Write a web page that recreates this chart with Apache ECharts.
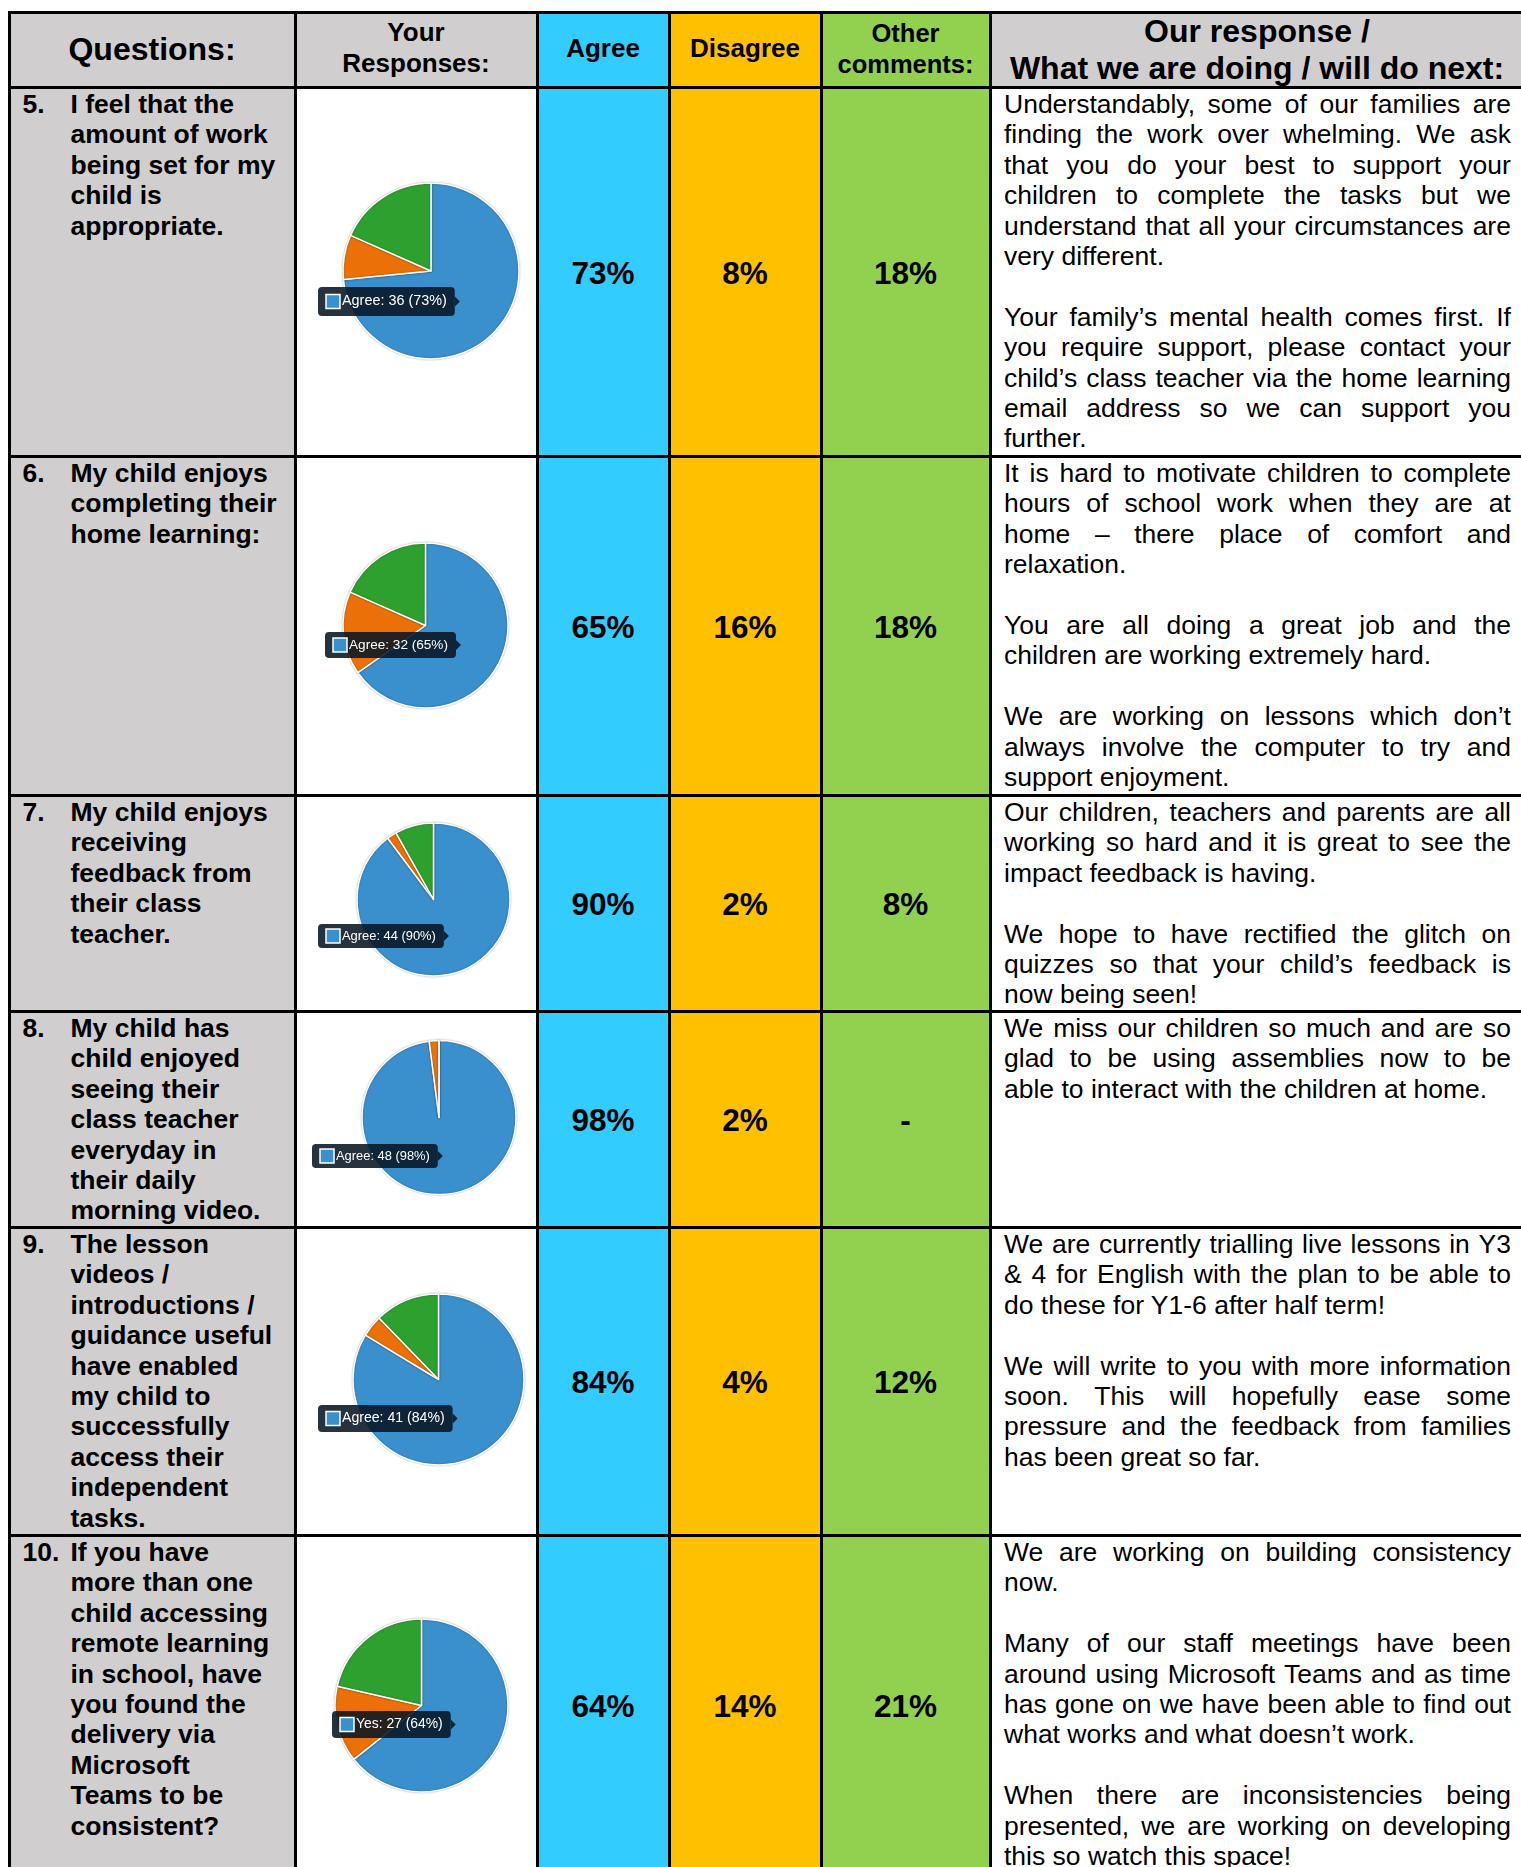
<!DOCTYPE html>
<html>
<head>
<meta charset="utf-8">
<script src="https://cdn.jsdelivr.net/npm/echarts@6/dist/echarts.min.js"></script>
<style>
html,body{margin:0;padding:0;background:#fff;}
body{width:1521px;height:1867px;position:relative;overflow:hidden;font-family:"Liberation Sans",Arial,sans-serif;color:#000;}
#table div{position:absolute;box-sizing:border-box;}
.t{white-space:nowrap;}
.b{font-weight:bold;}
.j{display:flex;justify-content:space-between;white-space:nowrap;}
#chart{position:absolute;left:0;top:0;width:1521px;height:1867px;z-index:5;pointer-events:none;}
</style>
</head>
<body>
<div id="table"></div>
<div id="chart"></div>
<script>
// ---------------- DATA ----------------
const headerTitles = [["Questions:"], ["Your", "Responses:"], ["Agree"], ["Disagree"], ["Other", "comments:"], ["Our response /", "What we are doing / will do next:"]];
const questionNumbers = ["5.", "6.", "7.", "8.", "9.", "10."];
const questionLines = [
  ["I feel that the", "amount of work", "being set for my", "child is", "appropriate."],
  ["My child enjoys", "completing their", "home learning:"],
  ["My child enjoys", "receiving", "feedback from", "their class", "teacher."],
  ["My child has", "child enjoyed", "seeing their", "class teacher", "everyday in", "their daily", "morning video."],
  ["The lesson", "videos /", "introductions /", "guidance useful", "have enabled", "my child to", "successfully", "access their", "independent", "tasks."],
  ["If you have", "more than one", "child accessing", "remote learning", "in school, have", "you found the", "delivery via", "Microsoft", "Teams to be", "consistent?"]
];
const agreePct = [73, 65, 90, 98, 84, 64];
const disagreePct = [8, 16, 2, 2, 4, 14];
const otherPct = [18, 18, 8, null, 12, 21];
const pieFirstLabels = ["Agree", "Agree", "Agree", "Agree", "Agree", "Yes"];
const agreeCounts = [36, 32, 44, 48, 41, 27];
const disagreeCounts = [4, 8, 1, 1, 2, 6];
const otherCounts = [9, 9, 4, 0, 6, 9];
const responseLines = [
  ["Understandably, some of our families are", "finding the work over whelming. We ask", "that you do your best to support your", "children to complete the tasks but we", "understand that all your circumstances are", "very different.", "", "Your family’s mental health comes first. If", "you require support, please contact your", "child’s class teacher via the home learning", "email address so we can support you", "further."],
  ["It is hard to motivate children to complete", "hours of school work when they are at", "home – there place of comfort and", "relaxation.", "", "You are all doing a great job and the", "children are working extremely hard.", "", "We are working on lessons which don’t", "always involve the computer to try and", "support enjoyment."],
  ["Our children, teachers and parents are all", "working so hard and it is great to see the", "impact feedback is having.", "", "We hope to have rectified the glitch on", "quizzes so that your child’s feedback is", "now being seen!"],
  ["We miss our children so much and are so", "glad to be using assemblies now to be", "able to interact with the children at home."],
  ["We are currently trialling live lessons in Y3", "& 4 for English with the plan to be able to", "do these for Y1-6 after half term!", "", "We will write to you with more information", "soon. This will hopefully ease some", "pressure and the feedback from families", "has been great so far."],
  ["We are working on building consistency", "now.", "", "Many of our staff meetings have been", "around using Microsoft Teams and as time", "has gone on we have been able to find out", "what works and what doesn’t work.", "", "When there are inconsistencies being", "presented, we are working on developing", "this so watch this space!"]
];

// ---------------- LAYOUT / STYLE ----------------
const colX = [9, 295, 537, 669, 821, 990, 1524];
const rowY = [12, 87, 456, 795, 1011, 1227, 1535, 1875];
const headerFills = ["#d0cece", "#d0cece", "#33ccff", "#ffc000", "#92d050", "#d0cece"];
const bodyFills = ["#d0cece", "#ffffff", "#33ccff", "#ffc000", "#92d050", "#ffffff"];
const pieColors = ["#3a8fcd", "#eb7007", "#2ea02f"];
const lineH = 30.4;
const headerSpec = [
  {size: 32, ys: [49]},
  {size: 26, ys: [33, 64]},
  {size: 26, ys: [49]},
  {size: 26, ys: [49]},
  {size: 25.5, ys: [33, 64]},
  {size: 32, ys: [31, 68]}
];
const pieLayout = [
  {cx: 431, cy: 271, r: 88},
  {cx: 425.5, cy: 625.5, r: 82.5},
  {cx: 433.5, cy: 899.5, r: 76.5},
  {cx: 439, cy: 1117.5, r: 77},
  {cx: 438.5, cy: 1379.5, r: 85.5},
  {cx: 421.5, cy: 1705.5, r: 86.5}
];
const tipLayout = [
  {x: 318, cy: 301.5, h: 29, fs: 14.4},
  {x: 325, cy: 645, h: 26, fs: 13.6},
  {x: 318, cy: 936, h: 24, fs: 12.9},
  {x: 312, cy: 1156, h: 24, fs: 12.9},
  {x: 318, cy: 1418.5, h: 27, fs: 14.1},
  {x: 332, cy: 1724.5, h: 27, fs: 13.9}
];

// ---------------- TABLE (HTML) ----------------
const root = document.getElementById('table');
function add(css, html, cls) {
  const d = document.createElement('div');
  d.style.cssText = css;
  if (cls) d.className = cls;
  if (html != null) d.textContent = html;
  root.appendChild(d);
  return d;
}
const nCols = colX.length - 1;
const nRows = rowY.length - 1;
for (let r = 0; r < nRows; r++) {
  for (let c = 0; c < nCols; c++) {
    const fill = r === 0 ? headerFills[c] : bodyFills[c];
    add(`left:${colX[c]}px;top:${rowY[r]}px;width:${colX[c+1]-colX[c]}px;height:${rowY[r+1]-rowY[r]}px;background:${fill};`);
  }
}
headerTitles.forEach((lines, c) => {
  const s = headerSpec[c];
  lines.forEach((txt, k) => {
    add(`left:${colX[c]}px;width:${colX[c+1]-colX[c]}px;top:${s.ys[k]-s.size*0.6}px;height:${s.size*1.2}px;line-height:${s.size*1.2}px;font-size:${s.size}px;text-align:center;`, txt, 't b');
  });
});
for (let i = 0; i < questionLines.length; i++) {
  const top = rowY[i+1];
  const bottom = rowY[i+2];
  const mid = (top + bottom) / 2 + 1;
  add(`left:22.5px;top:${top+2}px;height:${lineH}px;line-height:${lineH}px;font-size:26.5px;`, questionNumbers[i], 't b');
  questionLines[i].forEach((txt, k) => {
    add(`left:70.5px;top:${top+2+k*lineH}px;height:${lineH}px;line-height:${lineH}px;font-size:26.5px;`, txt, 't b');
  });
  const pcts = [agreePct[i], disagreePct[i], otherPct[i]];
  pcts.forEach((v, k) => {
    const c = k + 2;
    add(`left:${colX[c]}px;width:${colX[c+1]-colX[c]}px;top:${mid-20}px;height:40px;line-height:40px;font-size:31.5px;text-align:center;`, v == null ? '-' : v + '%', 't b');
  });
  const lines = responseLines[i];
  lines.forEach((txt, k) => {
    if (txt === '') return;
    const justify = k < lines.length - 1 && lines[k+1] !== '';
    const css = `left:1004px;width:507px;top:${top+2+k*lineH}px;height:${lineH}px;line-height:${lineH}px;font-size:26.5px;`;
    if (justify) {
      const d = add(css, null, 'j');
      txt.split(' ').forEach(w => { const s = document.createElement('span'); s.textContent = w; d.appendChild(s); });
    } else {
      add(css, txt, 't');
    }
  });
}
const bw = 3;
colX.forEach(x => add(`left:${x-bw/2}px;top:${rowY[0]-bw/2}px;width:${bw}px;height:${rowY[nRows]-rowY[0]+bw}px;background:#000;`));
rowY.forEach(y => add(`left:${colX[0]-bw/2}px;top:${y-bw/2}px;width:${colX[nCols]-colX[0]+bw}px;height:${bw}px;background:#000;`));

// ---------------- PIES (ECharts) ----------------
const chart = echarts.init(document.getElementById('chart'), null, {renderer: 'canvas', width: 1521, height: 1867});
const series = pieLayout.map((p, i) => ({
  type: 'pie',
  center: [p.cx, p.cy],
  radius: p.r,
  startAngle: 90,
  clockwise: true,
  silent: true,
  animation: false,
  z: 2,
  label: {show: false},
  labelLine: {show: false},
  itemStyle: {borderColor: '#ffffff', borderWidth: 1.5, shadowBlur: 2, shadowColor: 'rgba(0,0,0,0.3)'},
  data: [
    {name: pieFirstLabels[i], value: agreeCounts[i], itemStyle: {color: pieColors[0]}},
    {name: 'Disagree', value: disagreeCounts[i], itemStyle: {color: pieColors[1]}},
    {name: 'Other', value: otherCounts[i], itemStyle: {color: pieColors[2]}}
  ]
}));
const mctx = document.createElement('canvas').getContext('2d');
function textW(txt, fs) { mctx.font = `${fs}px "Liberation Sans", Arial, sans-serif`; return mctx.measureText(txt).width; }
const tipFill = 'rgba(8,22,35,0.88)';
const elements = [];
tipLayout.forEach((t, i) => {
  const total = agreeCounts[i] + disagreeCounts[i] + otherCounts[i];
  const pct = Math.round(agreeCounts[i] / total * 100);
  const txt = `${pieFirstLabels[i]}: ${agreeCounts[i]} (${pct}%)`;
  const w = 24 + textW(txt, t.fs) + 8;
  const y0 = t.cy - t.h / 2;
  elements.push(
    {type: 'rect', zlevel: 1, z: 100, silent: true, shape: {x: t.x, y: y0, width: w, height: t.h, r: 4}, style: {fill: tipFill}},
    {type: 'polygon', zlevel: 1, z: 100, silent: true, shape: {points: [[t.x + w, t.cy - 5], [t.x + w + 5, t.cy], [t.x + w, t.cy + 5]]}, style: {fill: tipFill}},
    {type: 'rect', zlevel: 1, z: 101, silent: true, shape: {x: t.x + 8, y: t.cy - 7, width: 14, height: 14}, style: {fill: pieColors[0], stroke: '#ffffff', lineWidth: 1.5}},
    {type: 'text', zlevel: 1, z: 102, silent: true, x: t.x + 24, y: t.cy, style: {text: txt, fill: '#ffffff', fontSize: t.fs, fontFamily: '"Liberation Sans", Arial, sans-serif', verticalAlign: 'middle', align: 'left'}}
  );
});
chart.setOption({
  backgroundColor: 'transparent',
  animation: false,
  series: series,
  graphic: {elements: elements}
});
</script>
</body>
</html>
